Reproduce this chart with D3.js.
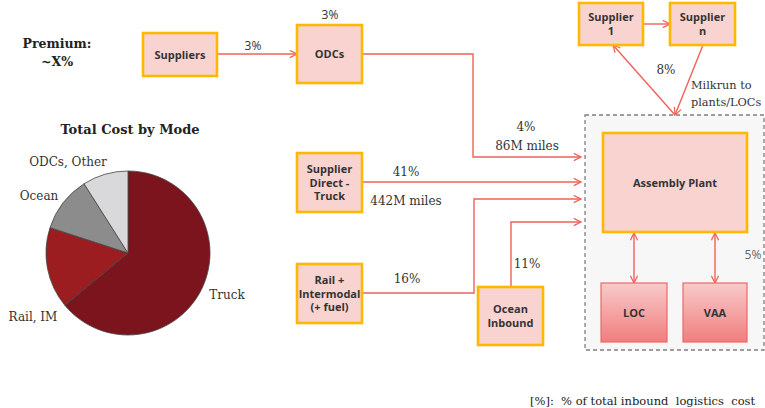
<!DOCTYPE html>
<html><head><meta charset="utf-8">
<script src="https://cdn.jsdelivr.net/npm/d3@7"></script>
<style>
html,body{margin:0;padding:0;background:#fff;overflow:hidden}
svg{display:block}
</style></head>
<body>
<svg id="c" width="765" height="408"></svg>
<script>
// ---- data ----
const modeCategories = ["Truck", "Rail, IM", "Ocean", "ODCs, Other"];
const modeValues = [64, 16, 11, 9];
const pieTitle = "Total Cost by Mode";
const nodeNames = ["Suppliers", "ODCs", "Supplier\nDirect -\nTruck", "Rail +\nIntermodal\n(+ fuel)", "Ocean\nInbound", "Assembly Plant", "Supplier\n1", "Supplier\nn", "LOC", "VAA"];
const flowLabels = ["3%", "3%", "4%", "86M miles", "41%", "442M miles", "16%", "11%", "8%", "5%"];
const milkrunLabel = ["Milkrun to", "plants/LOCs"];
const premiumLabel = ["Premium:", "~X%"];
const footnote = "[%]:  % of total inbound  logistics  cost";

// ---- layout / style ----
const svg = d3.select("#c");
const lineColor = "#F0625A";
const serif = "'DejaVu Serif', Georgia, serif";
const sans = "'Open Sans', 'Liberation Sans', sans-serif";

const defs = svg.append("defs");
defs.append("marker").attr("id","arr").attr("viewBox","0 0 10 10")
  .attr("refX",9).attr("refY",5).attr("markerWidth",9).attr("markerHeight",9)
  .attr("markerUnits","userSpaceOnUse").attr("orient","auto-start-reverse")
  .append("path").attr("d","M1,1 L9,5 L1,9").attr("fill","none")
  .attr("stroke",lineColor).attr("stroke-width",1.4);
const grad = defs.append("linearGradient").attr("id","redgrad").attr("x1",0).attr("y1",0).attr("x2",0).attr("y2",1);
grad.append("stop").attr("offset","0%").attr("stop-color","#F9CACA");
grad.append("stop").attr("offset","100%").attr("stop-color","#F07E7E");

// dashed plant container
svg.append("rect").attr("x",585).attr("y",115).attr("width",179).attr("height",235)
  .attr("fill","#F7F7F7").attr("stroke","#7F7F7F").attr("stroke-width",1.3).attr("stroke-dasharray","4,3");

// premium
svg.append("text").attr("font-family",serif).attr("font-weight","bold").attr("font-size",12.5)
  .attr("fill","#222").attr("text-anchor","middle")
  .selectAll("tspan").data(premiumLabel).join("tspan")
  .attr("x",57).attr("y",(d,i)=>48+i*18).text(d=>d);

// ---- pie ----
const pieG = svg.append("g").attr("transform","translate(128,253)");
const pie = d3.pie().sort(null).value(d=>d)(modeValues);
const R = 82;
const arc = d3.arc().innerRadius(0).outerRadius(R);
const color = d3.scaleOrdinal().domain(modeCategories).range(["#7B141D","#9C1D1F","#8C8C8C","#D9D9DB"]);
pieG.selectAll("path").data(pie).join("path")
  .attr("d",arc).attr("fill",(d,i)=>color(modeCategories[i]))
  .attr("stroke","#444").attr("stroke-width",0.8);
svg.append("text").attr("x",130).attr("y",134).attr("text-anchor","middle")
  .attr("font-family",serif).attr("font-weight","bold").attr("font-size",13).attr("fill","#222").text(pieTitle);
const labelPos = [[227,299,"middle"],[33,321,"middle"],[39,200,"middle"],[68,166,"middle"]];
svg.selectAll("text.pl").data(modeCategories).join("text").attr("class","pl")
  .attr("x",(d,i)=>labelPos[i][0]).attr("y",(d,i)=>labelPos[i][1]).attr("text-anchor",(d,i)=>labelPos[i][2])
  .attr("font-family",serif).attr("font-size",12).attr("fill","#333").text(d=>d);

// ---- lines ----
const lines = [
  [[217,54],[297,54]],
  [[362,54],[473,54],[473,157],[581,157]],
  [[362,182],[581,182]],
  [[362,293],[474,293],[474,199],[581,199]],
  [[511,287],[511,222],[581,222]],
  [[643,24],[670,24]],
  [[675,115],[613,45]],
  [[703,45],[675,115]]
];
const lineGen = d3.line();
svg.selectAll("path.fl").data(lines).join("path").attr("class","fl")
  .attr("d",lineGen).attr("fill","none").attr("stroke",lineColor).attr("stroke-width",1.4)
  .attr("marker-end","url(#arr)");
// double arrows
[[634,233,634,283],[715,233,715,283]].forEach(p=>{
  svg.append("line").attr("x1",p[0]).attr("y1",p[1]).attr("x2",p[2]).attr("y2",p[3])
    .attr("stroke",lineColor).attr("stroke-width",1.4)
    .attr("marker-start","url(#arr)").attr("marker-end","url(#arr)");
});

// ---- boxes ----
const boxes = [
  [143,33,74,43,"y"],[297,25,65,58,"y"],[297,153,65,59,"y"],[297,264,65,59,"y"],
  [478,287,65,58,"y"],[603,133,144,99,"y"],[579,3,64,42,"y"],[670,3,65,42,"y"],
  [601,283,66,59,"r"],[683,283,64,59,"r"]
];
nodeNames.forEach((name,i)=>{
  const [x,y,w,h,t] = boxes[i];
  svg.append("rect").attr("x",x).attr("y",y).attr("width",w).attr("height",h)
    .attr("fill", t==="y" ? "#F8D3D0" : "url(#redgrad)")
    .attr("stroke", t==="y" ? "#FFB800" : "#E86A6A")
    .attr("stroke-width", t==="y" ? 2.6 : 1.2);
  const ls = name.split("\n");
  const lh = 13.5;
  svg.append("text").attr("text-anchor","middle").attr("font-family",sans)
    .attr("font-weight","bold").attr("font-size",11).attr("fill","#333")
    .selectAll("tspan").data(ls).join("tspan")
    .attr("x",x+w/2).attr("y",(d,j)=>y+h/2+4-(ls.length-1)*lh/2+j*lh).text(d=>d);
});

// ---- flow labels ----
const flPos = [[330,19],[253,50],[526,131],[527,150],[406,176],[406,205],[407,283],[527,268],[666,74],[753,259]];
svg.selectAll("text.fv").data(flowLabels).join("text").attr("class","fv")
  .attr("x",(d,i)=>flPos[i][0]).attr("y",(d,i)=>flPos[i][1]).attr("text-anchor","middle")
  .attr("font-family",(d,i)=> (i<2||i===9) ? sans : serif).attr("font-size",12)
  .attr("fill",(d,i)=> i===9 ? "#666" : "#333").text(d=>d);

svg.append("text").attr("font-family",serif).attr("font-size",11.3).attr("fill","#333")
  .selectAll("tspan").data(milkrunLabel).join("tspan")
  .attr("x",691).attr("y",(d,i)=>89+i*17).text(d=>d);

svg.append("text").attr("x",530).attr("y",405).attr("font-family",serif).attr("font-size",11.5)
  .attr("fill","#222").attr("xml:space","preserve").style("white-space","pre").text(footnote);
</script>
</body></html>
